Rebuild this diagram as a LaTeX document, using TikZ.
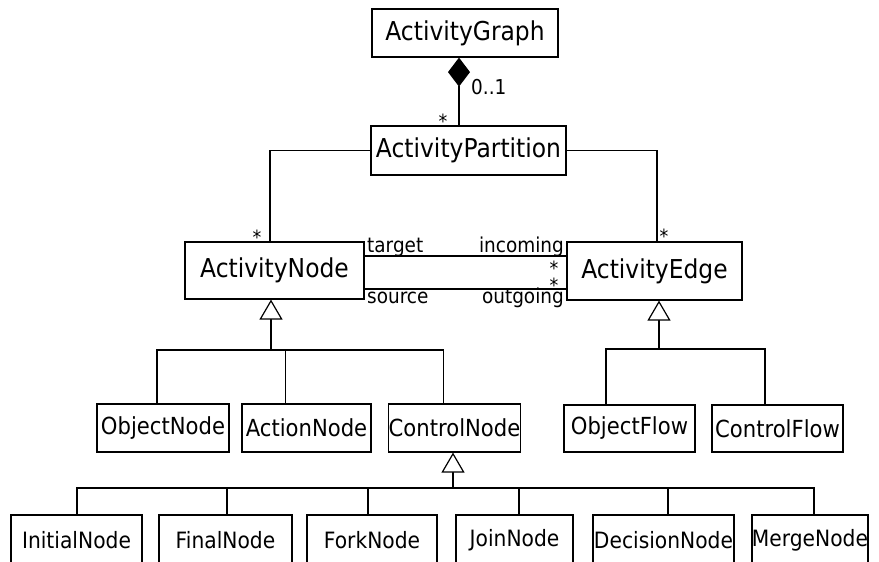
\documentclass[tikz,border=0pt]{standalone}
\usepackage{fontspec}
\setmainfont[FakeStretch=0.9]{DejaVu Sans}
\usetikzlibrary{arrows.meta}

\tikzset{
  umlbox/.style={draw, line width=1.2pt, inner sep=0pt, fill=white},
  bigbox/.style={umlbox, font=\fontsize{26}{30}\selectfont},
  midbox/.style={umlbox, font=\fontsize{23.5}{28}\selectfont},
  lowbox/.style={umlbox, minimum height=50pt, font=\fontsize{22.5}{27}\selectfont},
  conn/.style={line width=1.2pt},
  gen/.style={conn, -{Triangle[open, length=20pt, width=23pt, fill=white]}},
  comp/.style={conn, {Diamond[length=29pt, width=22pt]}-},
  role/.style={inner sep=0pt, font=\fontsize{20.5}{24}\selectfont},
  mult/.style={inner sep=0pt, font=\fontsize{19.5}{20}\selectfont},
}

\begin{document}
\begin{tikzpicture}[x=1pt, y=-1pt]
\useasboundingbox (0,0) rectangle (879,562);
\clip (0,0) rectangle (879,562);

% top classes
\node[bigbox, minimum width=186pt, minimum height=48pt] (AG) at (465,33) {ActivityGraph};
\node[bigbox, minimum width=195pt, minimum height=49pt] (AP) at (468.5,150.5) {ActivityPartition};
\node[bigbox, minimum width=179pt, minimum height=57pt] (AN) at (274.5,270.5) {ActivityNode};
\node[bigbox, minimum width=175pt, minimum height=58pt] (AE) at (654.5,271) {ActivityEdge};

% node subclasses
\node[midbox, minimum width=132pt, minimum height=48pt] (ON) at (163,428) {ObjectNode};
\node[midbox, minimum width=129pt, minimum height=48pt] (ActN) at (306.5,428) {ActionNode};
\node[midbox, minimum width=130pt, minimum height=48pt] (CN) at (454.5,428) {ControlNode};

% edge subclasses
\node[midbox, minimum width=131pt, minimum height=47pt] (OF) at (629.5,428.5) {ObjectFlow};
\node[midbox, minimum width=131pt, minimum height=47pt] (CF) at (777.5,428.5) {ControlFlow};

% control node subclasses
\node[lowbox, minimum width=131pt] (IN) at (76.5,540) {InitialNode};
\node[lowbox, minimum width=133pt] (FN) at (225.5,540) {FinalNode};
\node[lowbox, minimum width=130pt] (FkN) at (372,540) {ForkNode};
\node[lowbox, minimum width=117pt] (JN) at (514.5,540) {JoinNode};
\node[lowbox, minimum width=141pt] (DN) at (663.5,540) {DecisionNode};
\node[lowbox, minimum width=116pt] (MN) at (810,540) {MergeNode};

% composition ActivityGraph <>-- ActivityPartition
\draw[comp] ([xshift=-6pt]AG.south) -- ([xshift=-6pt]AG.south |- AP.north);
\node[role, anchor=base west] (m01) at (471,94) {0..1};
\node[mult] (mAP) at (443,121) {*};

% partition associations
\draw[conn] (AP.west) -| ([xshift=-4.5pt]AN.north);
\draw[conn] (AP.east) -| ([xshift=2.5pt]AE.north);
\node[mult] (mAN) at (257,237) {*};
\node[mult] (mAE) at (664,236) {*};

% node/edge associations
\draw[conn] ([yshift=14.5pt]AN.east) -- ([yshift=14.5pt]AN.east -| AE.west);
\draw[conn] ([yshift=-18.5pt]AN.east) -- ([yshift=-18.5pt]AN.east -| AE.west);
\node[role, anchor=base west] (rt) at (367,252) {target};
\node[role, anchor=base east] (ri) at (564,252) {incoming};
\node[role, anchor=base west] (rs) at (367,303) {source};
\node[role, anchor=base east] (ro) at (564,303) {outgoing};
\node[mult] (mi) at (554,268) {*};
\node[mult] (mo) at (554,285.5) {*};

% generalization of ActivityNode
\coordinate (nbus) at (271,350);
\draw[gen] (nbus) -- (nbus |- AN.south);
\draw[conn] ([xshift=-6pt]ON.north) |- ([xshift=-11pt]CN.north |- nbus) -- ([xshift=-11pt]CN.north);
\draw[conn] ([xshift=-21pt]ActN.north) -- ([xshift=-21pt]ActN.north |- nbus);

% generalization of ActivityEdge
\coordinate (ebus) at (659,349);
\draw[gen] (ebus) -- (ebus |- AE.south);
\draw[conn] ([xshift=-23.5pt]OF.north) |- ([xshift=-12.5pt]CF.north |- ebus) -- ([xshift=-12.5pt]CF.north);

% generalization of ControlNode
\coordinate (cbus) at (453,488);
\draw[gen] (cbus) -- (cbus |- CN.south);
\draw[conn] ([xshift=0.5pt]IN.north) |- ([xshift=4pt]MN.north |- cbus) -- ([xshift=4pt]MN.north);
\draw[conn] ([xshift=1.5pt]FN.north) -- ([xshift=1.5pt]FN.north |- cbus);
\draw[conn] ([xshift=-4pt]FkN.north) -- ([xshift=-4pt]FkN.north |- cbus);
\draw[conn] ([xshift=4.5pt]JN.north) -- ([xshift=4.5pt]JN.north |- cbus);
\draw[conn] ([xshift=4.5pt]DN.north) -- ([xshift=4.5pt]DN.north |- cbus);
\end{tikzpicture}
\end{document}
